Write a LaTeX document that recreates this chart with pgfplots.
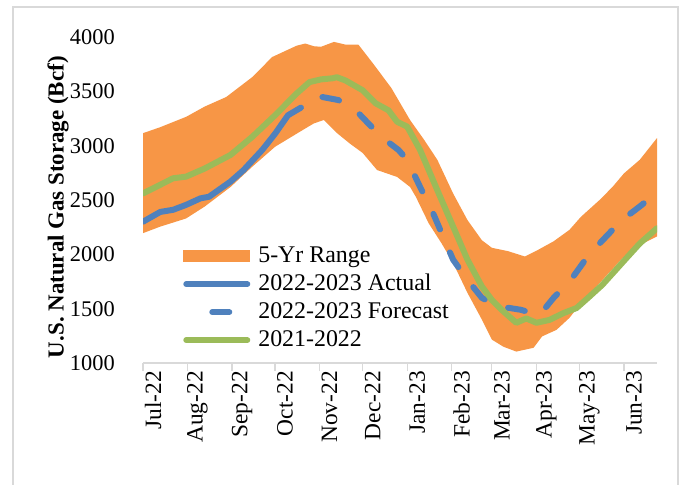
\documentclass[border=0pt]{standalone}
\usepackage{fontspec}
\setmainfont{Liberation Serif}
\usepackage{pgfplots}
\pgfplotsset{compat=1.18}
\usepgfplotslibrary{fillbetween}
\definecolor{rangeorange}{HTML}{F79646}
\definecolor{actblue}{HTML}{4F81BD}
\definecolor{oldgreen}{HTML}{9BBB59}
\definecolor{frame}{HTML}{D9D9D9}
\begin{document}
\begin{tikzpicture}
\draw[frame, line width=1.5bp] (13bp,0) -- (13bp,478bp) -- (678bp,478bp) -- (678bp,0);
\begin{axis}[
  at={(143bp,122bp)}, anchor=south west,
  scale only axis, width=514bp, height=326bp,
  xmin=0, xmax=358, ymin=1000, ymax=4000,
  axis x line*=bottom, axis y line*=left,
  x axis line style={draw=frame, line width=1.2bp},
  y axis line style={draw=none},
  ytick={1000,1500,...,4000},
  ytick style={draw=none},
  xtick={0,31,62,92,123,153,184,215,243,274,304,335},
  xticklabels={Jul-22,Aug-22,Sep-22,Oct-22,Nov-22,Dec-22,Jan-23,Feb-23,Mar-23,Apr-23,May-23,Jun-23},
  tick align=outside, major tick length=8bp,
  xtick style={draw=frame, line width=1.2bp},
  /pgf/number format/assume math mode=true,
  /pgf/number format/set thousands separator={},
  yticklabel style={anchor=east, inner sep=0pt, xshift=-20bp, font=\fontsize{22.5}{26}\selectfont},
  xticklabel style={rotate=90, anchor=east, inner sep=0pt, yshift=-10bp, font=\fontsize{23.5}{26}\selectfont},
  ylabel={U.S. Natural Gas Storage (Bcf)},
  every axis y label/.style={at={(axis description cs:-0.165,0.478)}, rotate=90, anchor=center, font=\bfseries\fontsize{23}{26}\selectfont},
  legend cell align=left,
  legend style={at={(0.078,0.362)}, anchor=north west, draw=none, fill=none,
    inner sep=0pt, column sep=8bp, row sep=6bp,
    font=\fontsize{24}{26}\selectfont,
    nodes={inner sep=0pt, text height=17bp, text depth=5bp}},
]
\addplot[name path=up, draw=none, forget plot] table {
0 3115
12 3170
30 3265
43 3360
58 3448
76 3630
90 3816
107 3920
113 3940
119 3915
124 3910
133 3955
141 3930
150 3930
160 3760
173 3530
186 3236
196 3050
205 2870
216 2560
226 2315
236 2130
243 2060
254 2030
266 1980
275 2040
286 2120
297 2225
305 2345
318 2500
327 2620
335 2745
346 2870
358 3070
};
\addplot[name path=lo, draw=none, forget plot] table {
0 2195
12 2255
30 2330
43 2440
61 2620
76 2805
92 2990
107 3110
119 3205
126 3236
135 3117
144 3020
153 2933
163 2776
177 2712
186 2620
190 2530
199 2285
208 2100
216 1920
226 1645
236 1400
243 1215
251 1150
260 1105
272 1140
278 1245
288 1305
297 1415
305 1550
318 1735
335 1980
346 2085
358 2165
};
\addplot[fill=rangeorange, draw=none,
  legend image code/.code={\fill[rangeorange] (0bp,-6bp) rectangle (67bp,6bp);}]
  fill between[of=up and lo];
\addlegendentry{5-Yr Range}
\addplot[actblue, line width=6bp, line cap=round, line join=round,
  legend image code/.code={\draw[actblue, line width=6bp, line cap=round] (3bp,0) -- (64bp,0);}]
  table {
0 2300
12 2390
21 2410
30 2455
40 2515
46 2530
61 2670
70 2775
83 2960
92 3110
101 3280
110 3350
};
\addlegendentry{2022-2023 Actual}
\addplot[actblue, line width=6bp, line cap=round, line join=round, dash pattern=on 17bp off 25bp, dash phase=17bp,
  legend image code/.code={\draw[actblue, line width=6bp, line cap=round, dash pattern=on 17bp off 26bp] (3bp,0) -- (64bp,0);}]
  table {
110 3350
122 3455
136 3420
148 3328
158 3190
170 3040
178 2960
184 2870
193 2620
202 2380
208 2195
216 1950
226 1765
236 1600
243 1550
251 1515
263 1490
275 1445
277 1455
286 1600
298 1765
307 1930
318 2100
327 2225
335 2330
346 2440
358 2570
};
\addlegendentry{2022-2023 Forecast}
\addplot[oldgreen, line width=6bp, line cap=round, line join=round,
  legend image code/.code={\draw[oldgreen, line width=6bp, line cap=round] (3bp,0) -- (64bp,0);}]
  table {
0 2560
12 2640
21 2700
30 2715
43 2790
61 2915
76 3080
92 3280
107 3480
116 3585
124 3610
132 3620
135 3630
141 3600
153 3510
162 3390
171 3325
177 3220
184 3175
193 2960
205 2590
216 2255
226 1950
236 1705
243 1580
251 1475
260 1370
267 1410
274 1370
283 1396
293 1460
302 1506
310 1600
320 1720
335 1940
346 2100
358 2240
};
\addlegendentry{2021-2022}
\end{axis}
\pgfresetboundingbox
\useasboundingbox (0,0) rectangle (686bp,485bp);
\end{tikzpicture}
\end{document}
